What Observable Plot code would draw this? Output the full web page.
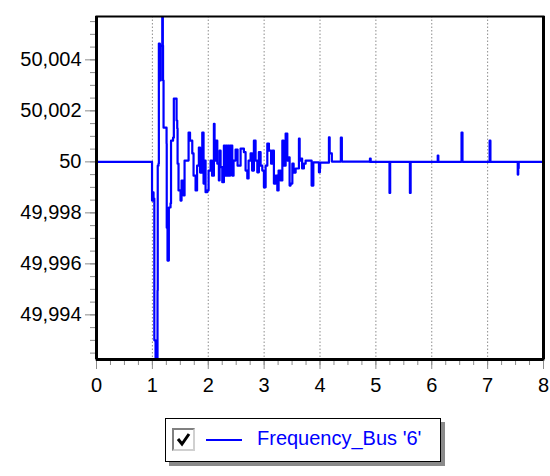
<!DOCTYPE html>
<html><head><meta charset="utf-8">
<script src="https://cdn.jsdelivr.net/npm/d3@7"></script>
<script src="https://cdn.jsdelivr.net/npm/@observablehq/plot@0.6"></script>
<style>
body{margin:0;background:#fff;font-family:"Liberation Sans",Arial,sans-serif;}
#chart{position:absolute;left:0;top:0;}
#legend{position:absolute;left:165px;top:418px;width:274px;height:42px;border:1.5px solid #000;background:#fff;box-shadow:4px 4px 0 #8a8a8a;}
#legend .cb{position:absolute;left:6px;top:9px;width:19px;height:19px;border-top:2px solid #808080;border-left:2px solid #808080;border-right:2px solid #d0d0d0;border-bottom:2px solid #d0d0d0;background:#fff;}
#legend .ln{position:absolute;left:40px;top:20px;width:36px;height:0;border-top:2px solid #0000ff;}
#legend .lbl{position:absolute;left:91px;top:9px;font-size:20px;line-height:20px;color:#0000ff;white-space:nowrap;}
</style></head><body>
<div id="chart"></div>
<div id="legend"><div class="cb"><svg width="19" height="19"><path d="M4 9 L8 14 L15 4" stroke="#000" stroke-width="3" fill="none"/></svg></div><div class="ln"></div><div class="lbl"></div></div>
<script>
const seriesName = "Frequency_Bus '6'";
const xTicks = [0, 1, 2, 3, 4, 5, 6, 7, 8];
const yTicks = [49.994, 49.996, 49.998, 50, 50.002, 50.004];
const time = [
  0, 0.994, 0.994, 1.012, 1.021, 1.035, 1.057, 1.092, 1.096, 1.110,
  1.116, 1.134, 1.139, 1.150, 1.177, 1.187, 1.191, 1.200, 1.254, 1.257,
  1.271, 1.295, 1.325, 1.334, 1.370, 1.384, 1.424, 1.433, 1.445, 1.451,
  1.468, 1.504, 1.522, 1.558, 1.576, 1.612, 1.648, 1.674, 1.714, 1.737,
  1.773, 1.800, 1.832, 1.854, 1.893, 1.916, 1.934, 1.952, 1.982, 2.006,
  2.042, 2.068, 2.101, 2.113, 2.131, 2.162, 2.190, 2.203, 2.221, 2.251,
  2.280, 2.301, 2.319, 2.337, 2.355, 2.373, 2.391, 2.430, 2.453, 2.489,
  2.525, 2.579, 2.638, 2.668, 2.699, 2.722, 2.758, 2.785, 2.817, 2.847,
  2.878, 2.906, 2.937, 2.967, 2.996, 3.027, 3.057, 3.086, 3.125, 3.152,
  3.175, 3.206, 3.236, 3.259, 3.295, 3.326, 3.349, 3.385, 3.415, 3.444,
  3.456, 3.474, 3.505, 3.528, 3.564, 3.623, 3.636, 3.653, 3.680, 3.712,
  3.743, 3.841, 3.850, 3.872, 3.881, 3.976, 3.981, 3.999, 4.003, 4.155,
  4.160, 4.173, 4.208, 4.212, 4.370, 4.373, 4.388, 4.391, 4.889, 4.894,
  4.907, 5.244, 5.244, 5.256, 5.256, 5.609, 5.609, 5.622, 5.622, 6.107,
  6.107, 6.118, 6.118, 6.533, 6.533, 6.550, 6.550, 7.036, 7.036, 7.050,
  7.050, 7.539, 7.539, 7.548, 7.556, 7.556, 7.995, 7.995, 8.0
];
const freq = [
  50, 50, 49.99848, 49.99880, 49.99856, 49.99300, 49.99229, 49.99496, 49.99985, 49.99993,
  50.00464, 50.00436, 50.00319, 50.00456, 50.00568, 50.00456, 50.00319, 50.00134, 50.00072, 49.99742,
  49.99613, 49.99821, 49.99837, 50.00083, 50.00095, 50.00248, 50.00248, 50.00162, 50.00131, 49.99993,
  49.99888, 49.99848, 49.99927, 49.99868, 50.00005, 50.00005, 50.00115, 50.00083, 50.00033, 49.99946,
  49.99888, 49.99985, 50.00056, 49.99958, 50.00115, 49.99915, 50.00005, 49.99881, 49.99888, 49.99966,
  50.00005, 49.99946, 50.00149, 50.00005, 50.00083, 49.99993, 49.99927, 50.00044, 49.99979, 49.99920,
  50.00064, 49.99946, 50.00064, 49.99946, 50.00064, 49.99946, 50.00064, 49.99946, 50.00005, 50.00048,
  49.99985, 50.00052, 50.00038, 49.99966, 49.99935, 50.00005, 50.00033, 49.99966, 50.00083, 50.00005,
  49.99959, 50.00038, 49.99985, 49.99966, 49.99900, 49.99985, 50.00072, 50.00044, 49.99993, 50.00044,
  49.99915, 49.99946, 49.99888, 49.99966, 49.99927, 50.00083, 49.99985, 50.00111, 50.00005, 50.00018,
  49.99907, 49.99915, 49.99993, 49.99958, 49.99974, 50.00091, 50.00005, 50.00013, 49.99974, 49.99993,
  50.00005, 50.00005, 49.99907, 49.99907, 49.99998, 49.99998, 49.99959, 49.99974, 49.99997, 49.99997,
  50.00096, 50.00033, 50.00033, 50.00001, 50.00001, 50.00095, 50.00095, 50.00001, 50, 50.00013,
  50, 50, 49.99878, 49.99878, 50, 50, 49.99878, 49.99878, 50, 50,
  50.00025, 50.00025, 50, 50, 50.00115, 50.00115, 50, 50, 50.00083, 50.00083,
  50, 50, 49.99950, 49.99975, 49.99975, 50, 50, 49.99884, 49.99884
];

const xDomain = [0, 8];
const yDomain = [49.99225, 50.0057];
const xMinor = d3.range(0, 8.0001, 0.25);
const yMinor = d3.range(49.9925, 50.0056, 0.0005);
const data = time.map((t, i) => ({t, f: freq[i]}));
const fmt = d => String(+d.toFixed(3)).replace(".", ",");

const chart = Plot.plot({
  width: 550, height: 400,
  marginLeft: 96, marginRight: 7, marginTop: 16, marginBottom: 41,
  style: {fontFamily: "'Liberation Sans', Arial, sans-serif", fontSize: "20px", color: "#000", background: "#fff", overflow: "visible"},
  x: {domain: xDomain},
  y: {domain: yDomain},
  marks: [
    Plot.ruleX(xTicks, {stroke: "#8c8c8c", strokeDasharray: "1.5,2", strokeWidth: 1}),
    Plot.axisX(xMinor, {tickSize: 6, stroke: "#8c8c8c", tickFormat: () => "", label: null}),
    Plot.axisX(xTicks, {tickSize: 10, tickPadding: 8, stroke: "#8c8c8c", fontSize: 20, tickFormat: d => String(d), label: null}),
    Plot.axisY(yMinor, {tickSize: 6, stroke: "#8c8c8c", tickFormat: () => "", label: null}),
    Plot.axisY(yTicks, {tickSize: 11, tickPadding: 4, stroke: "#8c8c8c", fontSize: 20, tickFormat: fmt, label: null}),
    Plot.line(data, {x: "t", y: "f", stroke: "#0000ff", strokeWidth: 2.2, curve: "step-after"}),
    Plot.frame({stroke: "#000", strokeWidth: 2}),
    Plot.ruleX(xDomain, {stroke: "#000", strokeWidth: 3}),
    Plot.ruleY([yDomain[0]], {stroke: "#000", strokeWidth: 3})
  ]
});
document.getElementById("chart").appendChild(chart);
document.querySelector("#legend .lbl").textContent = seriesName;
</script>
</body></html>
